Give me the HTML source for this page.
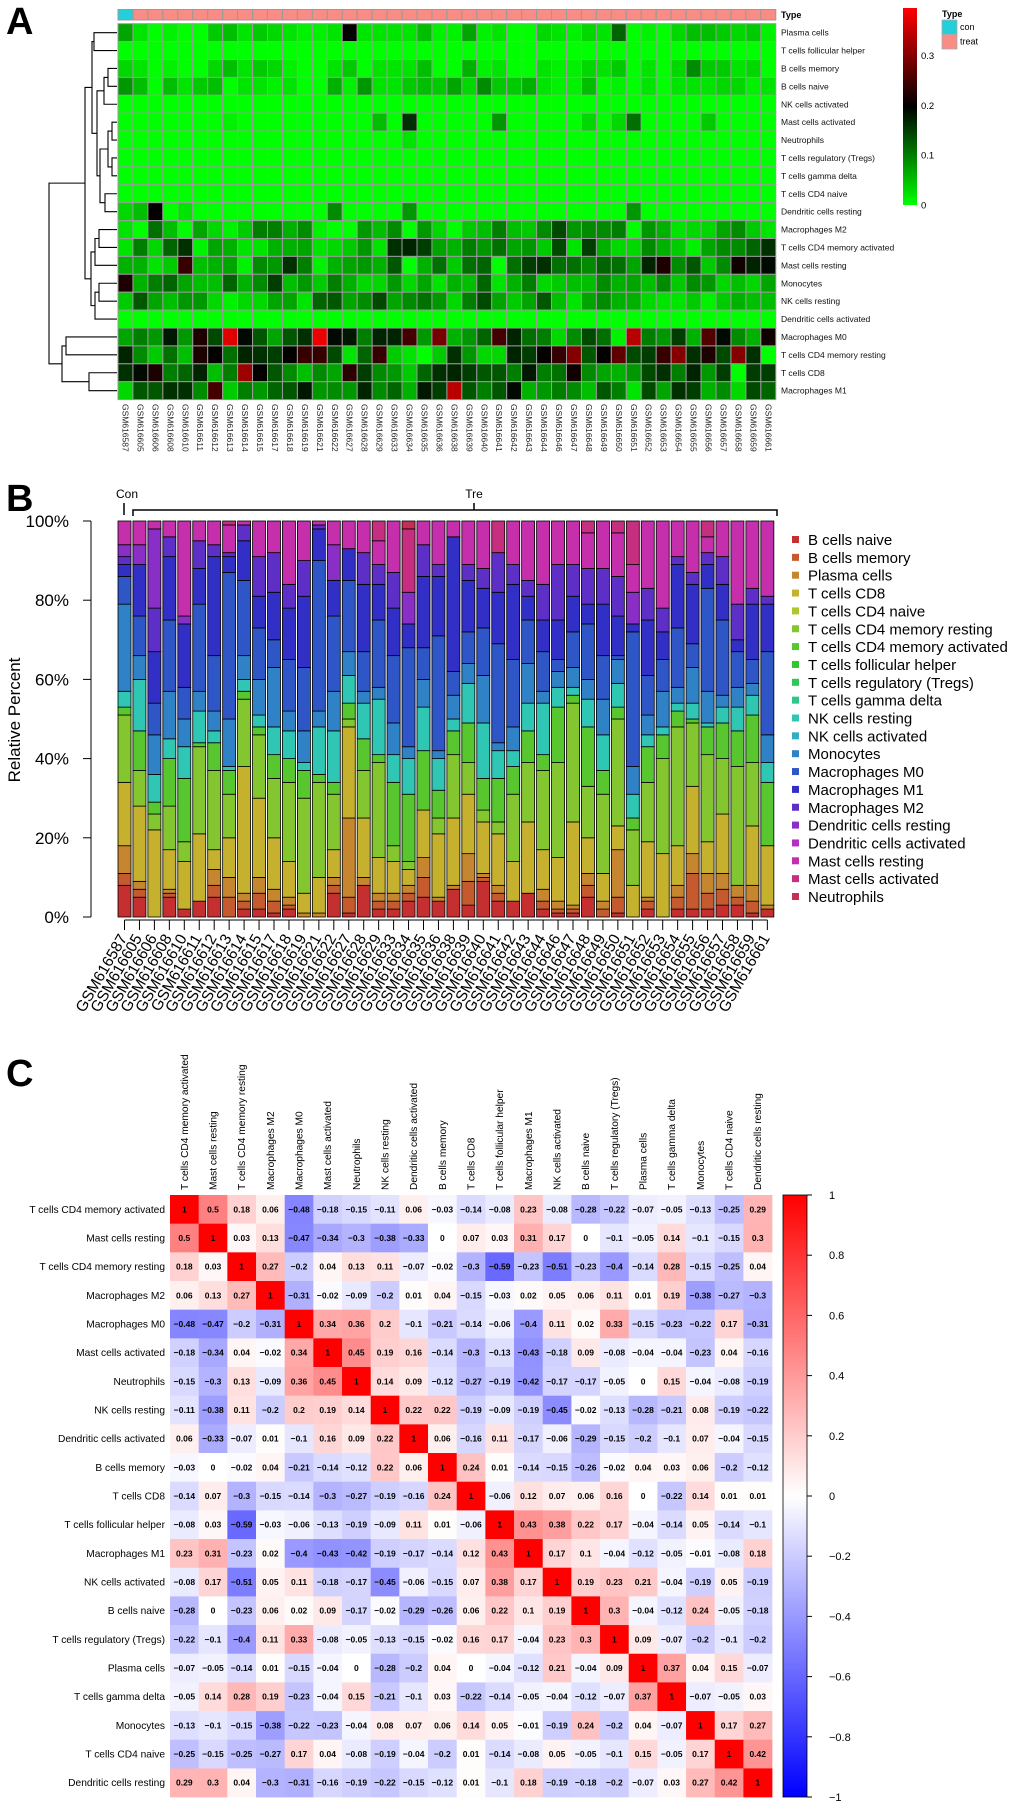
<!DOCTYPE html>
<html><head><meta charset="utf-8">
<style>
html,body{margin:0;padding:0;background:#fff;}
svg{display:block;font-family:"Liberation Sans",Arial,sans-serif;}
</style></head>
<body>
<svg id="fig" width="1020" height="1807" viewBox="0 0 1020 1807" xmlns="http://www.w3.org/2000/svg">
<text x="6" y="34" font-size="38" font-weight="bold">A</text>
<text x="6" y="511" font-size="38" font-weight="bold">B</text>
<text x="6" y="1086" font-size="38" font-weight="bold">C</text>
<g id="gA"></g>
<g id="gB"></g>
<g id="gC"></g>
</svg>
<script>
const samples=["GSM616587","GSM616605","GSM616606","GSM616608","GSM616610","GSM616611","GSM616612","GSM616613","GSM616614","GSM616615","GSM616617","GSM616618","GSM616619","GSM616621","GSM616622","GSM616627","GSM616628","GSM616629","GSM616633","GSM616634","GSM616635","GSM616636","GSM616638","GSM616639","GSM616640","GSM616641","GSM616642","GSM616643","GSM616644","GSM616646","GSM616647","GSM616648","GSM616649","GSM616650","GSM616651","GSM616652","GSM616653","GSM616654","GSM616655","GSM616656","GSM616657","GSM616658","GSM616659","GSM616661"];
const sampleType=["con","treat","treat","treat","treat","treat","treat","treat","treat","treat","treat","treat","treat","treat","treat","treat","treat","treat","treat","treat","treat","treat","treat","treat","treat","treat","treat","treat","treat","treat","treat","treat","treat","treat","treat","treat","treat","treat","treat","treat","treat","treat","treat","treat"];
const bNaive=[8,5,0,5,2,4,5,0,2,2,1,2,0,0,6,1,8,2,2,4,5,4,7,3,9,4,4,6,2,1,1,5,0,1,0,2,0,2,2,2,3,3,1,2];
const bMemory=[3,2,0,1,0,0,3,5,2,4,3,1,0,0,2,4,0,2,2,2,5,0,0,6,1,2,0,0,2,1,1,3,2,4,0,2,0,3,9,4,4,2,3,0];
const plasma=[7,2,0,1,0,0,4,5,2,4,3,2,1,1,2,20,2,2,2,2,5,1,1,7,1,2,0,0,3,2,1,3,2,12,0,1,0,3,5,5,4,3,4,1];
const cd8=[16,19,22,10,12,17,5,10,32,20,13,9,5,9,7,23,15,9,8,4,12,16,17,15,13,13,10,18,10,11,21,9,7,6,8,14,16,10,17,8,15,0,15,15];
const cd4Naive=[0,0,0,0,0,0,0,0,0,0,0,0,0,0,0,0,0,0,0,0,0,0,0,0,0,0,0,0,0,0,0,0,0,0,0,0,0,0,0,0,0,0,0,0];
const cd4MemRest=[17,9,4,11,5,22,20,11,17,16,15,20,24,24,14,2,12,24,4,2,0,4,16,8,3,3,17,15,20,24,30,13,20,27,14,15,24,30,16,22,14,30,16,0];
const cd4MemAct=[2,10,3,12,16,1,7,6,2,2,6,6,7,2,3,4,8,2,16,17,15,7,6,10,8,11,7,8,4,14,2,15,6,3,3,9,6,4,1,7,9,9,12,16];
const tfh=[0,0,0,0,0,0,0,0,0,0,0,0,0,0,0,0,0,0,0,0,0,0,0,0,0,0,0,0,0,0,0,0,0,0,0,0,0,0,0,0,0,0,0,0];
const tregs=[0,0,0,0,0,0,0,0,0,0,0,0,0,0,0,0,0,0,0,0,0,0,0,0,0,0,0,0,0,0,0,0,0,0,0,0,0,0,0,0,0,0,0,0];
const tgd=[0,0,0,0,0,0,0,0,0,0,0,0,0,0,0,0,0,0,0,0,0,0,0,0,0,0,0,0,0,0,0,0,0,0,0,0,0,0,0,0,0,0,0,0];
const nkRest=[4,13,7,5,8,8,3,1,3,3,7,7,2,12,13,7,9,14,7,9,11,8,3,10,14,7,4,7,13,5,2,7,9,6,6,3,2,2,4,1,4,6,5,5];
const nkAct=[0,0,0,0,0,0,0,0,0,0,0,0,0,0,0,0,0,0,0,0,0,0,0,0,0,0,0,0,0,0,0,0,0,0,0,0,0,0,0,0,0,0,0,0];
const mono=[22,6,10,12,7,5,5,12,6,9,15,5,8,4,10,6,3,3,8,3,7,2,6,5,12,2,6,10,3,4,5,5,9,6,7,5,9,4,9,8,3,5,3,7];
const m0=[7,10,8,18,8,22,14,37,19,13,7,13,16,38,19,18,10,17,17,25,8,29,6,8,12,25,17,11,10,3,9,14,11,1,34,10,8,15,6,26,19,9,6,21];
const m1=[3,13,13,16,16,9,25,4,10,8,12,13,18,8,9,8,17,9,12,6,18,15,34,13,10,13,19,6,8,10,9,5,13,10,2,14,7,16,15,6,9,3,14,12];
const m2=[2,0,11,5,0,7,3,1,4,10,10,6,9,1,0,0,8,5,9,0,8,3,0,4,5,10,5,4,9,14,8,9,9,10,0,8,6,2,3,3,7,9,4,2];
const dcRest=[3,5,20,0,2,0,0,0,0,0,0,0,0,0,9,0,0,0,0,8,0,0,0,0,0,0,0,0,0,0,0,0,0,0,8,0,0,0,0,0,0,0,0,0];
const dcAct=[0,0,0,0,0,0,0,0,0,0,0,0,0,0,0,0,0,0,0,0,0,0,0,0,0,0,0,0,0,0,0,0,0,0,0,0,0,0,0,0,0,0,0,0];
const mastRest=[6,6,2,4,24,5,6,7,1,9,8,16,10,1,6,7,8,6,13,0,6,11,4,11,12,0,11,15,16,11,11,9,12,11,7,17,22,9,13,4,9,21,17,19];
const mastAct=[0,0,0,0,0,0,0,1,0,0,0,0,0,0,0,0,0,5,0,16,0,0,0,0,0,8,0,0,0,0,0,3,0,3,11,0,0,0,0,4,0,0,0,0];
const neutro=[0,0,0,0,0,0,0,0,0,0,0,0,0,0,0,0,0,0,0,2,0,0,0,0,0,0,0,0,0,0,0,0,0,0,0,0,0,0,0,0,0,0,0,0];
const cellTypes=["B cells naive","B cells memory","Plasma cells","T cells CD8","T cells CD4 naive","T cells CD4 memory resting","T cells CD4 memory activated","T cells follicular helper","T cells regulatory (Tregs)","T cells gamma delta","NK cells resting","NK cells activated","Monocytes","Macrophages M0","Macrophages M1","Macrophages M2","Dendritic cells resting","Dendritic cells activated","Mast cells resting","Mast cells activated","Neutrophils"];
const cellSeries=[bNaive,bMemory,plasma,cd8,cd4Naive,cd4MemRest,cd4MemAct,tfh,tregs,tgd,nkRest,nkAct,mono,m0,m1,m2,dcRest,dcAct,mastRest,mastAct,neutro];
const heatRows=["Plasma cells","T cells follicular helper","B cells memory","B cells naive","NK cells activated","Mast cells activated","Neutrophils","T cells regulatory (Tregs)","T cells gamma delta","T cells CD4 naive","Dendritic cells resting","Macrophages M2","T cells CD4 memory activated","Mast cells resting","Monocytes","NK cells resting","Dendritic cells activated","Macrophages M0","T cells CD4 memory resting","T cells CD8","Macrophages M1"];
const heatTicks=[0,0.1,0.2,0.3];
const pctTicks=[0,20,40,60,80,100];
const corrLabels=["T cells CD4 memory activated","Mast cells resting","T cells CD4 memory resting","Macrophages M2","Macrophages M0","Mast cells activated","Neutrophils","NK cells resting","Dendritic cells activated","B cells memory","T cells CD8","T cells follicular helper","Macrophages M1","NK cells activated","B cells naive","T cells regulatory (Tregs)","Plasma cells","T cells gamma delta","Monocytes","T cells CD4 naive","Dendritic cells resting"];
const corrR1=[1,0.5,0.18,0.06,-0.48,-0.18,-0.15,-0.11,0.06,-0.03,-0.14,-0.08,0.23,-0.08,-0.28,-0.22,-0.07,-0.05,-0.13,-0.25,0.29];
const corrR2=[0.5,1,0.03,0.13,-0.47,-0.34,-0.3,-0.38,-0.33,0,0.07,0.03,0.31,0.17,0,-0.1,-0.05,0.14,-0.1,-0.15,0.3];
const corrR3=[0.18,0.03,1,0.27,-0.2,0.04,0.13,0.11,-0.07,-0.02,-0.3,-0.59,-0.23,-0.51,-0.23,-0.4,-0.14,0.28,-0.15,-0.25,0.04];
const corrR4=[0.06,0.13,0.27,1,-0.31,-0.02,-0.09,-0.2,0.01,0.04,-0.15,-0.03,0.02,0.05,0.06,0.11,0.01,0.19,-0.38,-0.27,-0.3];
const corrR5=[-0.48,-0.47,-0.2,-0.31,1,0.34,0.36,0.2,-0.1,-0.21,-0.14,-0.06,-0.4,0.11,0.02,0.33,-0.15,-0.23,-0.22,0.17,-0.31];
const corrR6=[-0.18,-0.34,0.04,-0.02,0.34,1,0.45,0.19,0.16,-0.14,-0.3,-0.13,-0.43,-0.18,0.09,-0.08,-0.04,-0.04,-0.23,0.04,-0.16];
const corrR7=[-0.15,-0.3,0.13,-0.09,0.36,0.45,1,0.14,0.09,-0.12,-0.27,-0.19,-0.42,-0.17,-0.17,-0.05,0,0.15,-0.04,-0.08,-0.19];
const corrR8=[-0.11,-0.38,0.11,-0.2,0.2,0.19,0.14,1,0.22,0.22,-0.19,-0.09,-0.19,-0.45,-0.02,-0.13,-0.28,-0.21,0.08,-0.19,-0.22];
const corrR9=[0.06,-0.33,-0.07,0.01,-0.1,0.16,0.09,0.22,1,0.06,-0.16,0.11,-0.17,-0.06,-0.29,-0.15,-0.2,-0.1,0.07,-0.04,-0.15];
const corrR10=[-0.03,0,-0.02,0.04,-0.21,-0.14,-0.12,0.22,0.06,1,0.24,0.01,-0.14,-0.15,-0.26,-0.02,0.04,0.03,0.06,-0.2,-0.12];
const corrR11=[-0.14,0.07,-0.3,-0.15,-0.14,-0.3,-0.27,-0.19,-0.16,0.24,1,-0.06,0.12,0.07,0.06,0.16,0,-0.22,0.14,0.01,0.01];
const corrR12=[-0.08,0.03,-0.59,-0.03,-0.06,-0.13,-0.19,-0.09,0.11,0.01,-0.06,1,0.43,0.38,0.22,0.17,-0.04,-0.14,0.05,-0.14,-0.1];
const corrR13=[0.23,0.31,-0.23,0.02,-0.4,-0.43,-0.42,-0.19,-0.17,-0.14,0.12,0.43,1,0.17,0.1,-0.04,-0.12,-0.05,-0.01,-0.08,0.18];
const corrR14=[-0.08,0.17,-0.51,0.05,0.11,-0.18,-0.17,-0.45,-0.06,-0.15,0.07,0.38,0.17,1,0.19,0.23,0.21,-0.04,-0.19,0.05,-0.19];
const corrR15=[-0.28,0,-0.23,0.06,0.02,0.09,-0.17,-0.02,-0.29,-0.26,0.06,0.22,0.1,0.19,1,0.3,-0.04,-0.12,0.24,-0.05,-0.18];
const corrR16=[-0.22,-0.1,-0.4,0.11,0.33,-0.08,-0.05,-0.13,-0.15,-0.02,0.16,0.17,-0.04,0.23,0.3,1,0.09,-0.07,-0.2,-0.1,-0.2];
const corrR17=[-0.07,-0.05,-0.14,0.01,-0.15,-0.04,0,-0.28,-0.2,0.04,0,-0.04,-0.12,0.21,-0.04,0.09,1,0.37,0.04,0.15,-0.07];
const corrR18=[-0.05,0.14,0.28,0.19,-0.23,-0.04,0.15,-0.21,-0.1,0.03,-0.22,-0.14,-0.05,-0.04,-0.12,-0.07,0.37,1,-0.07,-0.05,0.03];
const corrR19=[-0.13,-0.1,-0.15,-0.38,-0.22,-0.23,-0.04,0.08,0.07,0.06,0.14,0.05,-0.01,-0.19,0.24,-0.2,0.04,-0.07,1,0.17,0.27];
const corrR20=[-0.25,-0.15,-0.25,-0.27,0.17,0.04,-0.08,-0.19,-0.04,-0.2,0.01,-0.14,-0.08,0.05,-0.05,-0.1,0.15,-0.05,0.17,1,0.42];
const corrR21=[0.29,0.3,0.04,-0.3,-0.31,-0.16,-0.19,-0.22,-0.15,-0.12,0.01,-0.1,0.18,-0.19,-0.18,-0.2,-0.07,0.03,0.27,0.42,1];
const corrRows=[corrR1,corrR2,corrR3,corrR4,corrR5,corrR6,corrR7,corrR8,corrR9,corrR10,corrR11,corrR12,corrR13,corrR14,corrR15,corrR16,corrR17,corrR18,corrR19,corrR20,corrR21];
const corrTicks=[1,0.8,0.6,0.4,0.2,0,-0.2,-0.4,-0.6,-0.8,-1];

const NS="http://www.w3.org/2000/svg";
function mk(parent,tag,attrs,txt){const e=document.createElementNS(NS,tag);for(const k in attrs)e.setAttribute(k,attrs[k]);if(txt!==undefined)e.textContent=txt;parent.appendChild(e);return e;}
function catColor(i){return "hsl("+(i*17.25)+",62%,48%)";}

/* ---------- Panel A ---------- */
const gA=document.getElementById("gA");
const hmL=118,hmT=23.7,cw=14.95,rh=17.9,hmMax=0.395;
function hx(c){return hmL+c*cw;}
function hy(r){return hmT+r*rh;}
function heatColor(v){const t=Math.max(0,Math.min(v/hmMax,1));if(t<0.5){const g=Math.round(255*(1-t/0.5));return "rgb(0,"+g+",0)";}const r=Math.round(255*(t-0.5)/0.5);return "rgb("+r+",0,0)";}
sampleType.forEach((t,c)=>{
  const r=mk(gA,"rect",{x:hx(c),y:9.5,width:cw,height:10.5,fill:t==="con"?"#22CFDA":"#F98C85",stroke:"#9a9a9a","stroke-width":1});
  
  
});
const tl=mk(gA,"text",{x:781,y:18,"font-size":9,"font-weight":"bold"},"Type");

heatRows.forEach((name,r)=>{
  const s=cellSeries[cellTypes.indexOf(name)];
  s.forEach((v,c)=>{
    const cell=mk(gA,"rect",{x:hx(c),y:hy(r),width:cw,height:rh,fill:heatColor(v/100),stroke:"#9a9a9a","stroke-width":1});
    
    
  });
  const lab=mk(gA,"text",{x:781,y:hy(r)+rh/2+3,"font-size":8.5,fill:"#111"},name);
  
  
});
samples.forEach((s,c)=>{
  const x=hx(c)+cw/2-3;
  const t=mk(gA,"text",{x:x,y:404,"font-size":8.5,fill:"#222",transform:"rotate(90 "+x+" 404)"},s);
  
  
});
// dendrogram
const rc=i=>hy(i)+rh/2;
const tree=mk(gA,"g",{stroke:"#000","stroke-width":1.1,fill:"none"});

function leaf(i){return {x:117,y:rc(i)};}
function join(a,b,x){mk(tree,"path",{d:"M"+a.x+" "+a.y+"H"+x+"V"+b.y+"H"+b.x});return {x:x,y:(a.y+b.y)/2};}
const n01=join(leaf(0),leaf(1),94);
const n23=join(leaf(2),leaf(3),108);
const n234=join(n23,leaf(4),104);
const n56=join(leaf(5),leaf(6),112);
const n78=join(leaf(7),leaf(8),112);
const n58=join(n56,n78,108);
const n910=join(leaf(9),leaf(10),105);
const nmid=join(n58,n910,100);
const nlow=join(n234,nmid,97);
const A1=join(n01,nlow,92);
const n1112=join(leaf(11),leaf(12),99);
const n1113=join(n1112,leaf(13),95);
const n1415=join(leaf(14),leaf(15),99);
const n1416=join(n1415,leaf(16),95);
const A2=join(n1113,n1416,91);
const AA=join(A1,A2,85);
const n1718=join(leaf(17),leaf(18),66);
const n1920=join(leaf(19),leaf(20),89);
const BB=join(n1718,n1920,62);
join(AA,BB,49);
// colour bar A
const defs=mk(document.getElementById("fig"),"defs",{});
const lgA=mk(defs,"linearGradient",{id:"gradA",x1:0,y1:1,x2:0,y2:0});
mk(lgA,"stop",{offset:"0%","stop-color":"#00ff00"});
mk(lgA,"stop",{offset:"50%","stop-color":"#000000"});
mk(lgA,"stop",{offset:"100%","stop-color":"#ff0000"});
const cbA=mk(gA,"rect",{x:903,y:8,width:14,height:197,fill:"url(#gradA)"});

heatTicks.forEach(v=>{
  const y=205-v/hmMax*197;
  const t=mk(gA,"text",{x:921,y:y+3.5,"font-size":9.5},String(v));
  
});
const lt=mk(gA,"text",{x:942,y:17,"font-size":9,"font-weight":"bold"},"Type");

[["con","#22CFDA"],["treat","#F98C85"]].forEach((p,i)=>{
  const r=mk(gA,"rect",{x:942,y:20+i*14.5,width:15,height:14.5,fill:p[1],stroke:"#aaa","stroke-width":0.8});
  
  const t=mk(gA,"text",{x:960,y:30+i*14.5,"font-size":9},p[0]);
  
});

/* ---------- Panel B ---------- */
const gB=document.getElementById("gB");
const bT=521,bB=917,bL=118,pitch=14.95,bw=13;
function yPct(p){return bB-(p/100)*(bB-bT);}
function xBar(i){return bL+i*pitch;}
samples.forEach((s,i)=>{
  let total=0;cellSeries.forEach(a=>total+=a[i]);
  let cum=0;
  cellSeries.forEach((a,k)=>{
    const v=a[i]/total*100;
    if(v<=0)return;
    const y1=yPct(cum),y2=yPct(cum+v);
    const seg=mk(gB,"rect",{x:xBar(i),y:y2,width:bw,height:y1-y2,fill:catColor(k),stroke:"#000","stroke-width":0.8});
    
    
    cum+=v;
  });
  const cx=xBar(i)+bw/2;
  mk(gB,"line",{x1:cx,y1:920,x2:cx,y2:930,stroke:"#000","stroke-width":1});
  const t=mk(gB,"text",{x:cx+3,y:938,"font-size":15.5,"text-anchor":"end",transform:"rotate(-60 "+(cx+3)+" 938)"},s);
  
  
});
mk(gB,"line",{x1:xBar(0)+bw/2,y1:920,x2:xBar(43)+bw/2,y2:920,stroke:"#000","stroke-width":1});
const yAx=mk(gB,"line",{x1:91,y1:bT,x2:91,y2:bB,stroke:"#000","stroke-width":1});

pctTicks.forEach(p=>{
  const y=yPct(p);
  mk(gB,"line",{x1:83,y1:y,x2:91,y2:y,stroke:"#000","stroke-width":1});
  const t=mk(gB,"text",{x:69,y:y+6,"font-size":17,"text-anchor":"end"},p+"%");
  
});
const yt=mk(gB,"text",{x:20,y:720,"font-size":17,"text-anchor":"middle",transform:"rotate(-90 20 720)"},"Relative Percent");

const con=mk(gB,"text",{x:127,y:498,"font-size":12,"text-anchor":"middle"},"Con");

const tre=mk(gB,"text",{x:474,y:498,"font-size":12,"text-anchor":"middle"},"Tre");

const br=mk(gB,"path",{d:"M124 503V515 M133 516V510H777V516 M474 510V503",stroke:"#000","stroke-width":1.5,fill:"none"});

cellTypes.forEach((n,k)=>{
  const y=540+k*17.85;
  const sw=mk(gB,"rect",{x:792,y:y-4,width:7,height:7,fill:catColor(k)});
  
  const t=mk(gB,"text",{x:808,y:y+5,"font-size":15},n);
  
});

/* ---------- Panel C ---------- */
const gC=document.getElementById("gC");
const cL=170,cT=1195,cs=28.67;
function corrColor(v){if(v>=0){const c=Math.round(255*(1-v));return "rgb(255,"+c+","+c+")";}const c=Math.round(255*(1+v));return "rgb("+c+","+c+",255)";}
corrRows.forEach((row,r)=>{
  row.forEach((v,c)=>{
    const cell=mk(gC,"rect",{x:cL+c*cs,y:cT+r*cs,width:cs+0.3,height:cs+0.3,fill:corrColor(v)});
    
    
    const t=mk(gC,"text",{x:cL+c*cs+cs/2,y:cT+r*cs+cs/2+3,"font-size":8.5,"font-weight":"bold","text-anchor":"middle"},String(v).replace("-","\u2212"));
    
    
  });
  const rl=mk(gC,"text",{x:165,y:cT+r*cs+cs/2+3.5,"font-size":10.2,"text-anchor":"end"},corrLabels[r]);
  
});
corrLabels.forEach((n,c)=>{
  const x=cL+c*cs+cs/2+3.5;
  const t=mk(gC,"text",{x:x,y:1190,"font-size":10.2,transform:"rotate(-90 "+x+" 1190)"},n);
  
  
});
const lgC=mk(defs,"linearGradient",{id:"gradC",x1:0,y1:1,x2:0,y2:0});
mk(lgC,"stop",{offset:"0%","stop-color":"#0000ff"});
mk(lgC,"stop",{offset:"50%","stop-color":"#ffffff"});
mk(lgC,"stop",{offset:"100%","stop-color":"#ff0000"});
const cbC=mk(gC,"rect",{x:783,y:1195,width:24,height:602,fill:"url(#gradC)",stroke:"#000","stroke-width":0.8});

corrTicks.forEach(v=>{
  const y=1195+(1-v)/2*602;
  mk(gC,"line",{x1:807,y1:y,x2:812,y2:y,stroke:"#000","stroke-width":1});
  const t=mk(gC,"text",{x:829,y:y+4,"font-size":11},String(v).replace("-","\u2212"));
  
});
</script>
</body></html>
